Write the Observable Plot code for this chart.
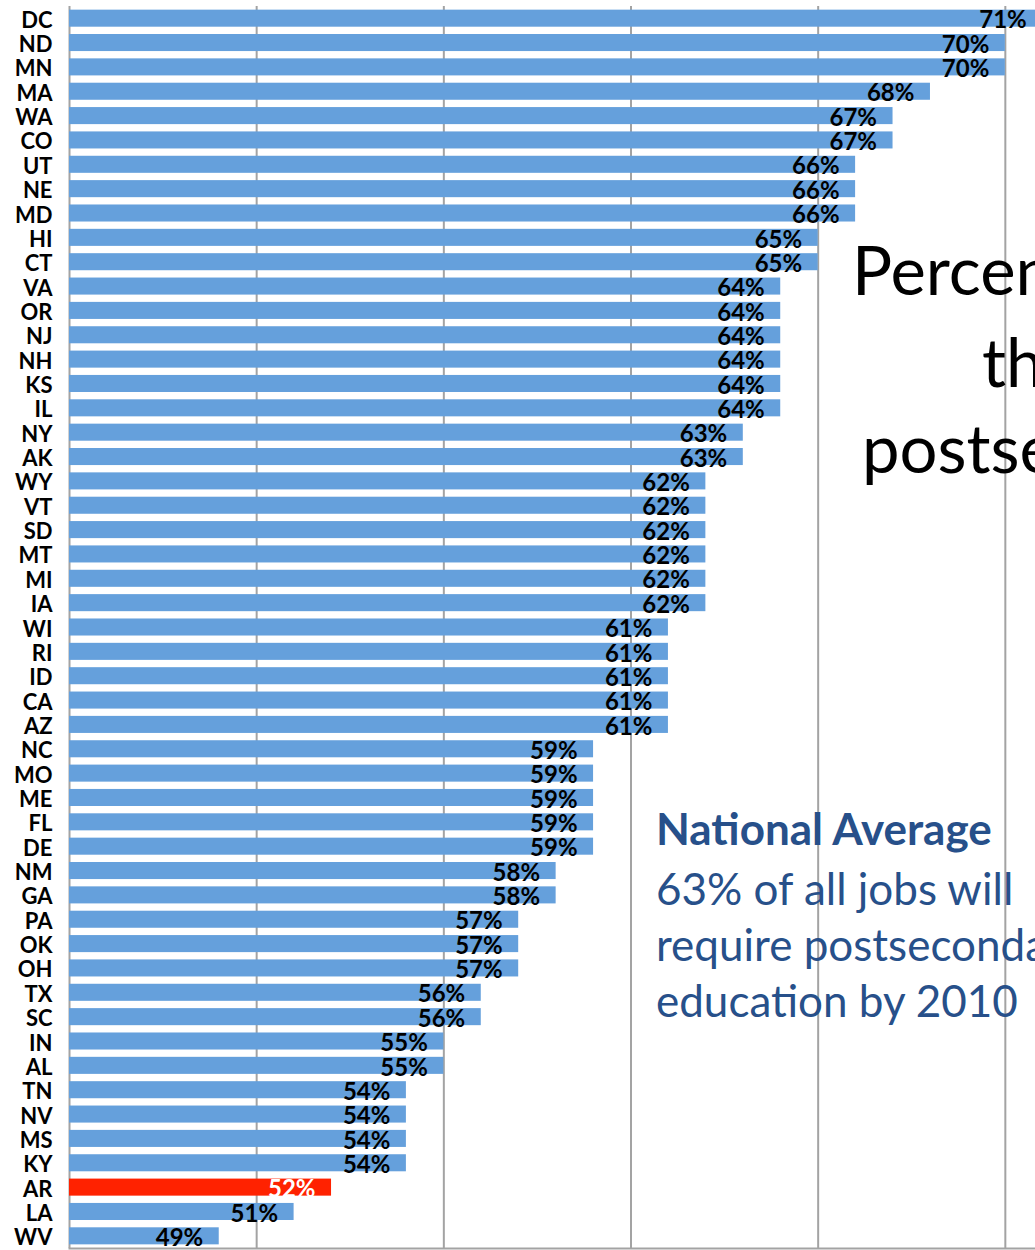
<!DOCTYPE html>
<html><head><meta charset="utf-8">
<script src="https://cdn.jsdelivr.net/npm/d3@7"></script>
<script src="https://cdn.jsdelivr.net/npm/@observablehq/plot@0.6"></script>
<style>
body{margin:0;background:#fff;overflow:hidden;font-family:Lato,sans-serif}
#wrap{position:relative;width:1035px;height:1250px;overflow:hidden}
#wrap svg{position:absolute;left:0;top:0;overflow:visible;max-width:none !important;height:1250px !important}
</style></head><body><div id="wrap"></div>
<script>
const states = ["DC","ND","MN","MA","WA","CO","UT","NE","MD","HI","CT","VA","OR","NJ","NH","KS","IL","NY","AK","WY","VT","SD","MT","MI","IA","WI","RI","ID","CA","AZ","NC","MO","ME","FL","DE","NM","GA","PA","OK","OH","TX","SC","IN","AL","TN","NV","MS","KY","AR","LA","WV"];
const values = [71,70,70,68,67,67,66,66,66,65,65,64,64,64,64,64,64,63,63,62,62,62,62,62,62,61,61,61,61,61,59,59,59,59,59,58,58,57,57,57,56,56,55,55,54,54,54,54,52,51,49];
const highlight = "AR";
const gridTicks = [45,50,55,60,65,70,75];
const baseline = 45;
const titleLines = ["Percentage of jobs in 2018", "that will require", "postsecondary education"];
const noteHead = "National Average";
const noteLines = ["63% of all jobs will", "require postsecondary", "education by 2010"];

const data = states.map((s,i)=>({state:s, value:values[i]}));
const blue = "#65a0dc", red = "#ff2200", grid = "#a3a3a3";

const chart = Plot.plot({
  width:1200, height:1250, marginLeft:69, marginRight:8, marginTop:6, marginBottom:2,
  style:{fontFamily:"Lato, sans-serif", background:"transparent", color:"black"},
  x:{domain:[45,75], axis:null},
  y:{domain:states, paddingInner:0.3, paddingOuter:0.15, round:false, axis:null},
  color:{type:"identity"},
  marks:[
    Plot.ruleX(gridTicks,{stroke:grid, strokeWidth:2}),
    Plot.frame({anchor:"bottom", stroke:grid, strokeWidth:2}),
    Plot.barX(data,{x1:()=>baseline, x2:"value", y:"state", fill:d=>d.state===highlight?red:blue}),
    Plot.text(data,{x:"value", y:"state", text:d=>d.value+"%", textAnchor:"end", dx:-16, dy:2,
      fontWeight:"bold", fontSize:24, fill:d=>d.state===highlight?"white":"black"}),
    Plot.text(data,{x:()=>baseline, y:"state", text:"state", textAnchor:"end", dx:-17, dy:2,
      fontWeight:"bold", fontSize:22, fill:"black"})
  ]
});
const wrap = document.getElementById("wrap");
wrap.appendChild(chart);

// annotation overlay
const ns = "http://www.w3.org/2000/svg";
const ov = document.createElementNS(ns,"svg");
ov.setAttribute("width",1035); ov.setAttribute("height",1250);
function addText(str,x,y,size,weight,color){
  const t=document.createElementNS(ns,"text");
  t.setAttribute("x",x); t.setAttribute("y",y);
  t.setAttribute("font-family","Lato, sans-serif");
  t.setAttribute("font-size",size); t.setAttribute("font-weight",weight);
  t.setAttribute("fill",color); t.textContent=str; ov.appendChild(t);
}
addText(titleLines[0],852,295,67,"normal","black");
addText(titleLines[1],982,387,67,"normal","black");
addText(titleLines[2],862,473,67,"normal","black");
const navy="#27508a";
addText(noteHead,656,845,44,"bold",navy);
noteLines.forEach((l,i)=>addText(l,656,905+i*56,44,"normal",navy));
wrap.appendChild(ov);
</script></body></html>
